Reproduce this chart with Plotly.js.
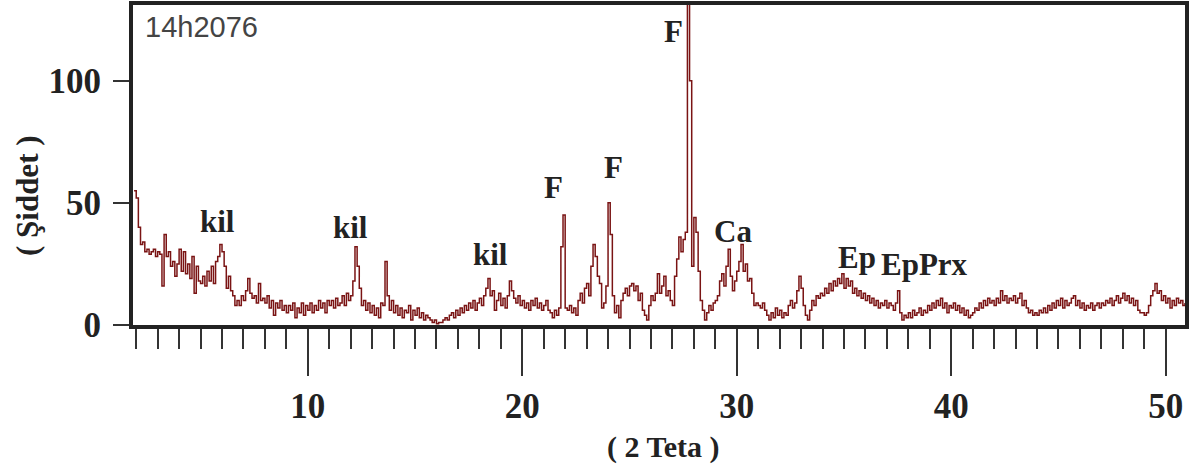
<!DOCTYPE html>
<html>
<head>
<meta charset="utf-8">
<script src="https://cdn.plot.ly/plotly-3.0.1.min.js"></script>
<style>html,body{margin:0;padding:0;background:#fff;}#chart{width:1198px;height:473px;}</style>
</head>
<body>
<div id="chart"></div>
<script>
// XRD pattern, sampled every 0.1 degree 2-theta starting at 1.9
const twoThetaStart = 1.9;
const twoThetaStep = 0.1;
const intensity = [
  55,
  52,40,33,34,30,31,29,30,31,28,   // 2.0
  30,29,16,37,28,30,24,26,20,25,   // 3.0
  31,22,30,21,25,19,28,13,24,18,   // 4.0
  17,20,16,22,18,24,17,26,28,33,   // 5.0
  30,24,15,20,14,12,8,10,8,12,     // 6.0
  10,14,19,13,11,12,9,17,10,11,    // 7.0
  9,12,7,10,4,9,7,10,6,8,          // 8.0
  5,8,6,9,3,7,5,9,4,8,             // 9.0
  6,9,5,8,6,10,7,9,5,10,           // 10.0
  8,10,7,11,8,9,12,8,13,10,        // 11.0
  12,18,32,24,15,8,10,6,9,5,       // 12.0
  8,4,7,3,9,8,26,12,6,10,          // 13.0
  5,8,4,7,3,6,5,8,2,6,             // 14.0
  4,7,3,5,2,4,3,2,1,2,             // 15.0
  0.5,1,1,2,3,2,4,5,3,6,           // 16.0
  4,7,5,8,6,9,7,10,6,9,            // 17.0
  11,8,12,15,19,12,14,6,10,13,     // 18.0
  8,11,7,12,18,14,11,9,12,8,       // 19.0
  10,7,9,6,10,8,11,7,9,6,          // 20.0
  8,10,6,5,3,6,4,7,32,45,          // 21.0
  7,6,8,5,7,4,10,13,9,15,          // 22.0
  17,12,24,33,28,20,17,7,9,16,     // 23.0
  50,37,12,5,8,3,10,13,15,12,      // 24.0
  16,17,14,16,10,13,6,4,2,8,       // 25.0
  12,10,13,21,13,16,20,12,14,10,   // 26.0
  8,20,27,36,30,35,38,135,100,24,  // 27.0
  44,38,22,10,6,2,5,8,6,9,         // 28.0
  10,12,18,21,16,24,31,20,14,18,   // 29.0
  22,26,33,22,25,18,19,13,8,9,     // 30.0
  8,7,9,6,4,2,5,3,7,4,             // 31.0
  6,3,5,4,8,10,7,9,14,20,          // 32.0
  15,8,4,2,6,10,8,12,11,13,        // 33.0
  12,15,13,17,14,18,16,19,17,21,   // 34.0
  15,19,16,18,13,15,12,14,11,13,   // 35.0
  10,12,9,11,8,10,7,9,8,10,        // 36.0
  7,9,8,6,9,14,5,2,4,3,            // 37.0
  5,3,6,4,5,7,4,6,5,8,             // 38.0
  6,9,7,10,8,11,7,9,5,8,           // 39.0
  7,9,6,8,5,7,4,6,3,4,             // 40.0
  5,7,6,9,7,10,8,11,9,10,          // 41.0
  8,11,9,14,10,12,9,11,10,12,      // 42.0
  9,11,13,8,10,7,5,6,4,5,          // 43.0
  4,6,5,7,5,8,6,9,7,10,            // 44.0
  8,11,7,10,8,9,11,12,8,10,        // 45.0
  7,9,6,8,7,9,6,8,9,7,             // 46.0
  9,8,10,9,11,8,10,12,9,11,        // 47.0
  13,10,12,9,11,8,10,6,5,5,        // 48.0
  4,5,8,12,14,17,13,14,10,12,      // 49.0
  9,11,7,10,8,11,9,10,8,9          // 50.0
];

const xTickValues = [10, 20, 30, 40, 50];
const yTickValues = [0, 50, 100];

const peakLabels = ['kil', 'kil', 'kil', 'F', 'F', 'F', 'Ca', 'Ep', 'EpPrx'];
const peakLabelX = [5.81, 12.0, 18.52, 21.45, 24.25, 27.04, 29.83, 35.6, 38.77];
const peakLabelY = [42.2, 39.8, 28.7, 56.1, 64.3, 120, 38.1, 27.5, 24.6];

const sampleName = '14h2076';
const xTitle = '( 2 Teta )';
const yTitle = '( Şiddet )';

const serif = '"Liberation Serif", "Times New Roman", serif';
const ink = '#222222';

const trace = {
  type: 'scatter',
  mode: 'lines',
  x0: twoThetaStart,
  dx: twoThetaStep,
  y: intensity,
  line: {color: '#7a1414', width: 1.5, shape: 'hv'},
  hoverinfo: 'x+y'
};

const annotations = peakLabels.map((t, i) => ({
  text: '<b>' + t + '</b>',
  x: peakLabelX[i], y: peakLabelY[i], xref: 'x', yref: 'y',
  showarrow: false, xanchor: 'center', yanchor: 'middle',
  font: {family: serif, size: 31, color: ink}
}));

annotations.push({
  text: sampleName, xref: 'paper', yref: 'paper', x: 0.0095, y: 0.93,
  xanchor: 'left', yanchor: 'middle', showarrow: false,
  font: {family: '"Liberation Sans", Arial, sans-serif', size: 29, color: '#444'}
});
annotations.push({
  text: '<b>' + xTitle + '</b>', xref: 'paper', yref: 'paper', x: 0.504, y: -0.381,
  xanchor: 'center', yanchor: 'middle', showarrow: false,
  font: {family: serif, size: 30, color: ink}
});
annotations.push({
  text: '<b>' + yTitle + '</b>', xref: 'paper', yref: 'paper', x: -0.1008, y: 0.406,
  xanchor: 'center', yanchor: 'middle', showarrow: false, textangle: -90,
  font: {family: serif, size: 31, color: ink}
});

const layout = {
  width: 1198, height: 473,
  margin: {l: 133, r: 13, t: 5, b: 148},
  paper_bgcolor: '#fff', plot_bgcolor: '#fff',
  showlegend: false,
  xaxis: {
    range: [1.85, 50.9],
    tickmode: 'array', tickvals: xTickValues, ticktext: xTickValues.map(String),
    ticks: 'outside', ticklen: 47, tickwidth: 2, tickcolor: '#333',
    minor: {dtick: 1, tick0: 0, ticks: 'outside', ticklen: 20, tickwidth: 2, tickcolor: '#333', showgrid: false},
    showgrid: false, zeroline: false,
    showline: true, mirror: true, linewidth: 4, linecolor: ink,
    tickfont: {family: serif, size: 35, color: ink, weight: 'bold'},
    ticklabelstandoff: 0
  },
  yaxis: {
    range: [0, 131],
    tickmode: 'array', tickvals: yTickValues, ticktext: yTickValues.map(String),
    ticks: 'outside', ticklen: 16, tickwidth: 2, tickcolor: '#333',
    showgrid: false, zeroline: false,
    showline: true, mirror: true, linewidth: 4, linecolor: ink,
    tickfont: {family: serif, size: 35, color: ink, weight: 'bold'},
    ticklabelstandoff: 5
  },
  annotations: annotations
};

Plotly.newPlot('chart', [trace], layout, {displayModeBar: false, staticPlot: true});
</script>
</body>
</html>
